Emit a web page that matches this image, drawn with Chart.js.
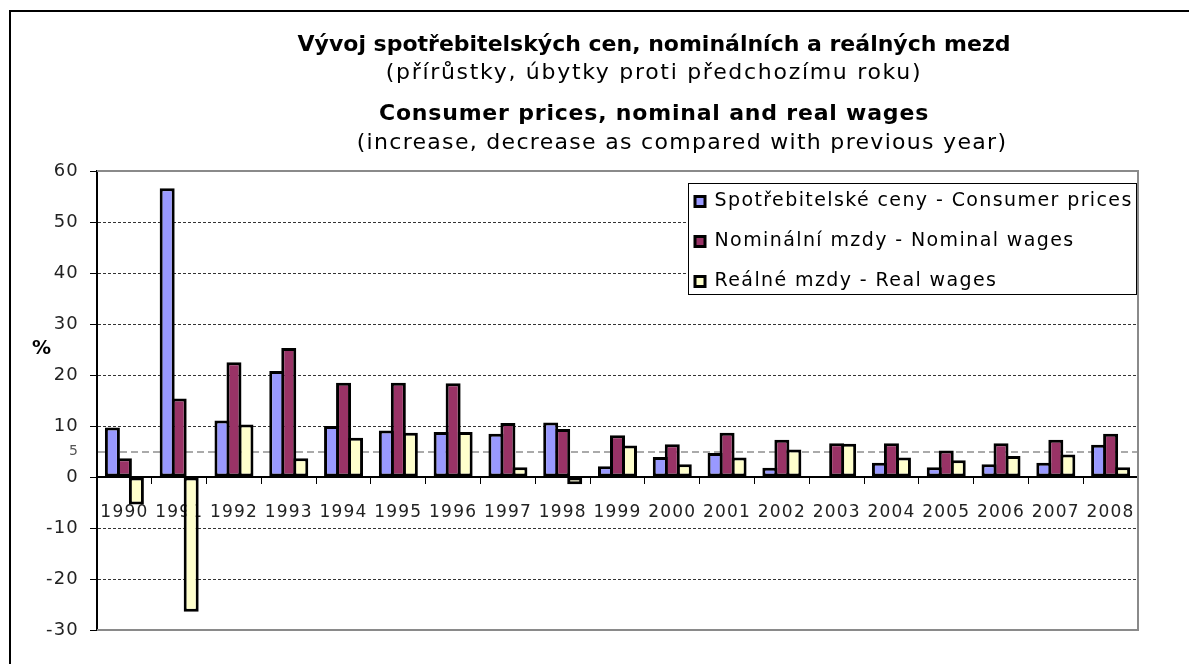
<!DOCTYPE html>
<html>
<head>
<meta charset="utf-8">
<script src="https://cdn.jsdelivr.net/npm/chart.js@4/dist/chart.umd.min.js"></script>
<style>
  html, body { margin: 0; padding: 0; background: #fff; }
  body { width: 1189px; height: 664px; position: relative; overflow: hidden; font-family: "DejaVu Sans", Verdana, sans-serif; }
  #frame { position: absolute; left: 9px; top: 10px; width: 1200px; height: 700px; border-top: 2px solid #000; border-left: 2px solid #000; }
  #wrap { position: absolute; left: 0; top: 0; width: 1189px; height: 664px; }
  .t { position: absolute; left: 654px; transform: translateX(-50%); white-space: nowrap; color: #000; line-height: 26px; font-size: 22px; }
  .b { font-weight: bold; }
</style>
</head>
<body>
<div id="frame"></div>
<div id="wrap"><canvas id="chart" width="1189" height="664"></canvas></div>
<div class="t b" style="top:31px">Vývoj spotřebitelských cen, nominálních a reálných mezd</div>
<div class="t" style="top:59px; letter-spacing:1.7px">(přírůstky, úbytky proti předchozímu roku)</div>
<div class="t b" style="top:100px; letter-spacing:0.8px">Consumer prices, nominal and real wages</div>
<div class="t" style="top:129px; left:682px; letter-spacing:1.3px">(increase, decrease as compared with previous year)</div>
<script>
const years = ['1990', '1991', '1992', '1993', '1994', '1995', '1996', '1997', '1998', '1999',
  '2000', '2001', '2002', '2003', '2004', '2005', '2006', '2007', '2008']
const consumerPrices = [9.7, 56.6, 11.1, 20.8, 10.0, 9.1, 8.8, 8.5, 10.7, 2.1, 3.9, 4.7, 1.8, 0.1, 2.8, 1.9, 2.5, 2.8, 6.3]
const nominalWages = [3.7, 15.4, 22.5, 25.3, 18.5, 18.5, 18.4, 10.6, 9.4, 8.2, 6.4, 8.7, 7.3, 6.6, 6.6, 5.2, 6.6, 7.3, 8.5]
const realWages = [-5.4, -26.4, 10.3, 3.7, 7.7, 8.7, 8.8, 1.9, -1.4, 6.2, 2.5, 3.8, 5.4, 6.5, 3.8, 3.3, 4.1, 4.4, 1.9]
const seriesNames = ['Spotřebitelské ceny - Consumer prices', 'Nominální mzdy - Nominal wages', 'Reálné mzdy - Real wages']
const yTicks = [60, 50, 40, 30, 20, 10, 5, 0, -10, -20, -30]

const FONT = '"DejaVu Sans", Verdana, sans-serif'

const tickVal = c => (c.tick ? c.tick.value : null)

// gray frame round the plot area (left side is the black y axis)
const plotFrame = {
  id: 'plotFrame',
  beforeDraw(chart) {
    chart.ctx.letterSpacing = '1.2px'
  },
  beforeDatasetsDraw(chart) {
    const { ctx, chartArea: a } = chart
    ctx.save()
    ctx.strokeStyle = '#8a8a8a'
    ctx.lineWidth = 2
    ctx.beginPath()
    ctx.moveTo(a.left, a.top)
    ctx.lineTo(a.right, a.top)
    ctx.lineTo(a.right, a.bottom)
    ctx.lineTo(a.left, a.bottom)
    ctx.stroke()
    ctx.restore()
  }
}

// legend sits in the upper right of the plot, in a white framed box
const legendBox = {
  id: 'legendBox',
  afterLayout(chart) {
    const lg = chart.legend
    const a = chart.chartArea
    lg.left = a.right - 464
    lg.top = a.top
    lg.right = a.right
    lg.bottom = a.bottom
    lg.width = lg.right - lg.left
    lg.height = lg.bottom - lg.top
  },
  afterDatasetsDraw(chart) {
    const { ctx, chartArea: a } = chart
    ctx.save()
    ctx.fillStyle = '#fff'
    ctx.strokeStyle = '#000'
    ctx.lineWidth = 1
    ctx.fillRect(a.right - 450, a.top + 12, 449, 112)
    ctx.strokeRect(a.right - 449.5, a.top + 12.5, 448, 111)
    ctx.letterSpacing = '1.4px'
    chart.legend.draw()
    ctx.restore()
  },
  afterDraw(chart) {
    const { ctx, chartArea: a, scales } = chart
    ctx.save()
    ctx.fillStyle = '#000'
    ctx.font = 'bold 19px ' + FONT
    ctx.textAlign = 'center'
    ctx.textBaseline = 'middle'
    ctx.fillText('%', a.left - 55, scales.y.getPixelForValue(25))
    ctx.restore()
  }
}

const ctx = document.getElementById('chart')
// eslint-disable-next-line no-unused-vars
const chart = new Chart(ctx, {
  type: 'bar',
  data: {
    labels: years,
    datasets: [
      { label: seriesNames[0], data: consumerPrices, backgroundColor: '#9999ff' },
      { label: seriesNames[1], data: nominalWages, backgroundColor: '#993366' },
      { label: seriesNames[2], data: realWages, backgroundColor: '#ffffcc' }
    ].map(d => Object.assign(d, {
      borderColor: '#000',
      borderWidth: 3,
      borderSkipped: false,
      // bars overlap by one border width so neighbours share a border
      categoryPercentage: 0.657,
      barPercentage: 1.25
    }))
  },
  options: {
    responsive: false,
    animation: false,
    devicePixelRatio: 1,
    layout: { padding: { left: 0, right: 51, top: 171, bottom: 34 } },
    scales: {
      x: {
        position: { y: 0 },
        offset: true,
        grid: { offset: true, drawOnChartArea: false, drawTicks: true, tickLength: 6, tickColor: '#000', tickWidth: 1 },
        border: { color: '#000', width: 2 },
        ticks: { padding: 19, color: '#222', font: { size: 17, family: FONT }, maxRotation: 0, autoSkip: false }
      },
      y: {
        min: -30,
        max: 60,
        afterBuildTicks: s => { s.ticks = yTicks.map(v => ({ value: v })) },
        afterFit: s => { s.width = 97 },
        ticks: {
          padding: 11,
          color: c => (tickVal(c) === 5 ? '#555' : '#222'),
          font: c => (tickVal(c) === 5 ? { size: 14, family: FONT } : { size: 18, family: FONT })
        },
        grid: {
          color: c => {
            const v = tickVal(c)
            if (v === 5) return '#aaaaaa'
            if (v === 0 || v === 60 || v === -30) return 'rgba(0,0,0,0)'
            return '#333'
          },
          lineWidth: c => (tickVal(c) === 5 ? 2 : 1),
          tickLength: 7,
          tickColor: c => (tickVal(c) === 5 ? 'rgba(0,0,0,0)' : '#000')
        },
        border: {
          color: '#000',
          width: 2,
          dash: c => {
            const v = tickVal(c)
            if (v === null) return []
            return v === 5 ? [7, 4] : [3, 2]
          }
        }
      }
    },
    plugins: {
      legend: {
        position: 'chartArea',
        align: 'start',
        labels: { color: '#000', font: { size: 19, family: FONT }, boxWidth: 10, boxHeight: 10, padding: 21 }
      },
      tooltip: { enabled: false }
    }
  },
  plugins: [plotFrame, legendBox]
})
</script>
</body>
</html>
